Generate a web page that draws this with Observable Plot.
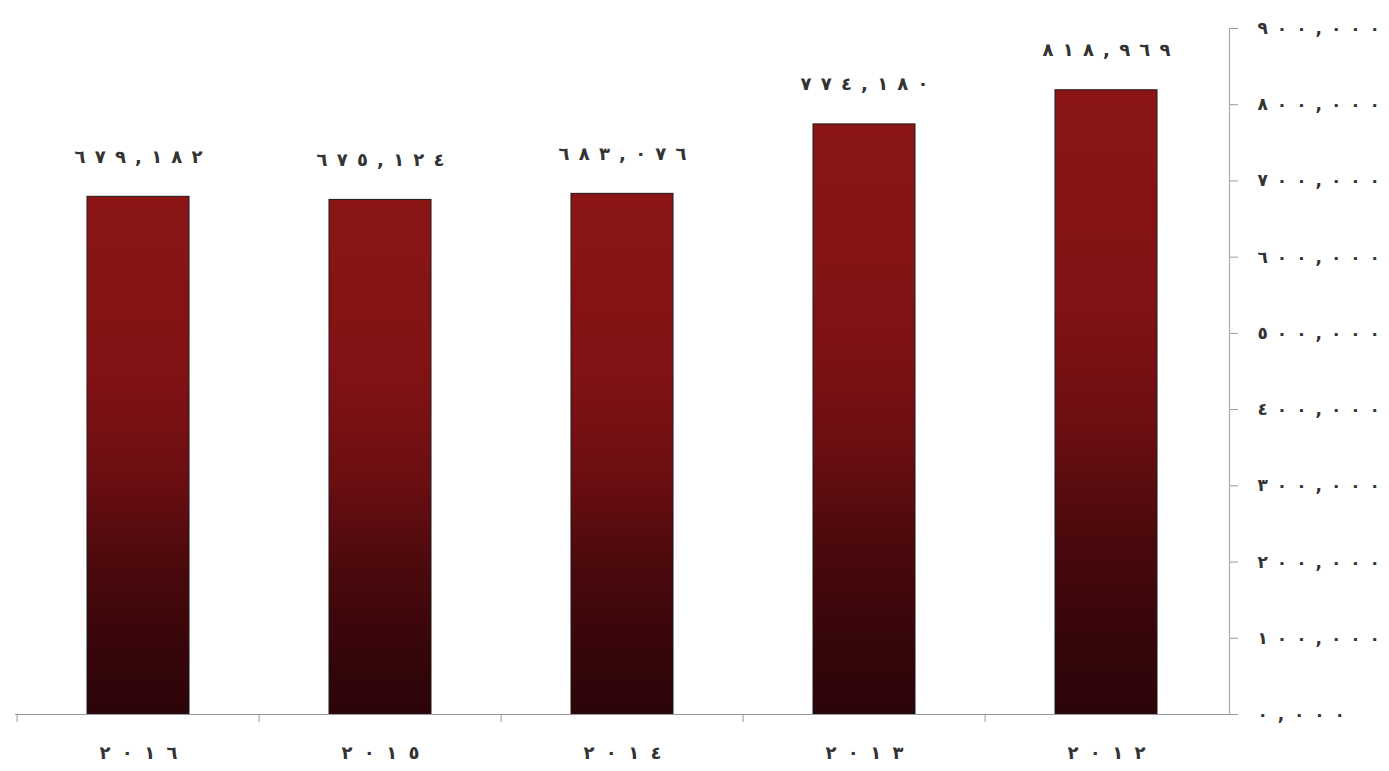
<!DOCTYPE html>
<html>
<head>
<meta charset="utf-8">
<script src="https://cdn.jsdelivr.net/npm/d3@7"></script>
<script src="https://cdn.jsdelivr.net/npm/@observablehq/plot@0.6"></script>
<style>
  html, body { margin: 0; padding: 0; background: #fff; }
</style>
</head>
<body>
<div id="chart"></div>
<script>
const years = ["2016", "2015", "2014", "2013", "2012"];
const yearLabels = ["٢٠١٦", "٢٠١٥", "٢٠١٤", "٢٠١٣", "٢٠١٢"];
const values = [679182, 675124, 683076, 774180, 818969];
const valueLabels = ["٦٧٩,١٨٢", "٦٧٥,١٢٤", "٦٨٣,٠٧٦", "٧٧٤,١٨٠", "٨١٨,٩٦٩"];
const yTicks = [0, 100000, 200000, 300000, 400000, 500000, 600000, 700000, 800000, 900000];
const yTickLabels = ["٠,٠٠٠", "١٠٠,٠٠٠", "٢٠٠,٠٠٠", "٣٠٠,٠٠٠", "٤٠٠,٠٠٠", "٥٠٠,٠٠٠", "٦٠٠,٠٠٠", "٧٠٠,٠٠٠", "٨٠٠,٠٠٠", "٩٠٠,٠٠٠"];

const data = years.map((y, i) => ({year: y, label: yearLabels[i], value: values[i], text: valueLabels[i]}));

const W = 1389, H = 771;
const mL = 15, mR = 160, mT = 28, mB = 57;
const step = (W - mL - mR) / years.length;

function gradientDefs() {
  const ns = "http://www.w3.org/2000/svg";
  const defs = document.createElementNS(ns, "defs");
  const g = document.createElementNS(ns, "linearGradient");
  g.setAttribute("id", "barGrad");
  g.setAttribute("x1", "0"); g.setAttribute("y1", "0");
  g.setAttribute("x2", "0"); g.setAttribute("y2", "1");
  [["0%", "#8b1515"], ["35%", "#811214"], ["55%", "#6a0e12"], ["72%", "#4a090c"], ["87%", "#37060a"], ["100%", "#2c0408"]].forEach(([o, c]) => {
    const s = document.createElementNS(ns, "stop");
    s.setAttribute("offset", o);
    s.setAttribute("stop-color", c);
    g.appendChild(s);
  });
  defs.appendChild(g);
  return defs;
}

const chart = Plot.plot({
  width: W,
  height: H,
  marginLeft: mL,
  marginRight: mR,
  marginTop: mT,
  marginBottom: mB,
  style: {fontFamily: "'DejaVu Sans', sans-serif", fontSize: "17px", fontWeight: "bold", color: "#222", background: "#fff"},
  x: {type: "band", domain: years, paddingInner: 0.58, paddingOuter: 0.29},
  y: {domain: [0, 900000]},
  marks: [
    gradientDefs,
    Plot.barY(data, {x: "year", y: "value", fill: "url(#barGrad)", stroke: "#1a1a1a", strokeWidth: 1}),
    Plot.ruleY([0], {stroke: "#999", strokeWidth: 1.2, insetRight: -8}),
    Plot.frame({anchor: "right", stroke: "#aaa", strokeWidth: 1.2}),
    Plot.ruleX(years, {x: d => d, y1: 0, y2: 0, insetBottom: -8, dx: -step / 2, stroke: "#999"}),
    Plot.axisX({
      tickSize: 0,
      tickPadding: 32,
      tickFormat: d => yearLabels[years.indexOf(d)],
      fontSize: 18,
      fill: "#333",
      label: null
    }),
    Plot.axisY({
      anchor: "right",
      ticks: yTicks,
      tickSize: 8,
      tickPadding: 20,
      tickFormat: d => yTickLabels[yTicks.indexOf(d)],
      stroke: "#999",
      fill: "#333",
      fontSize: 17,
      label: null
    }),
    Plot.text(data, {x: "year", y: "value", text: "text", dy: -40, fontSize: 18, fill: "#333"})
  ]
});

// widen glyph spacing (letter-spacing is ignored for Arabic script)
d3.select(chart).selectAll("text").each(function () {
  const g = this.closest("g[aria-label]");
  const role = g ? g.getAttribute("aria-label") : "";
  let adv = 0;
  if (role.startsWith("x-axis")) adv = 19.5;
  else if (role.startsWith("y-axis")) adv = 17.5;
  else if (role === "text") adv = 18.3;
  if (adv) {
    const n = this.textContent.length;
    this.setAttribute("textLength", n * adv);
    this.setAttribute("lengthAdjust", "spacing");
  }
});

document.getElementById("chart").appendChild(chart);
</script>
</body>
</html>
